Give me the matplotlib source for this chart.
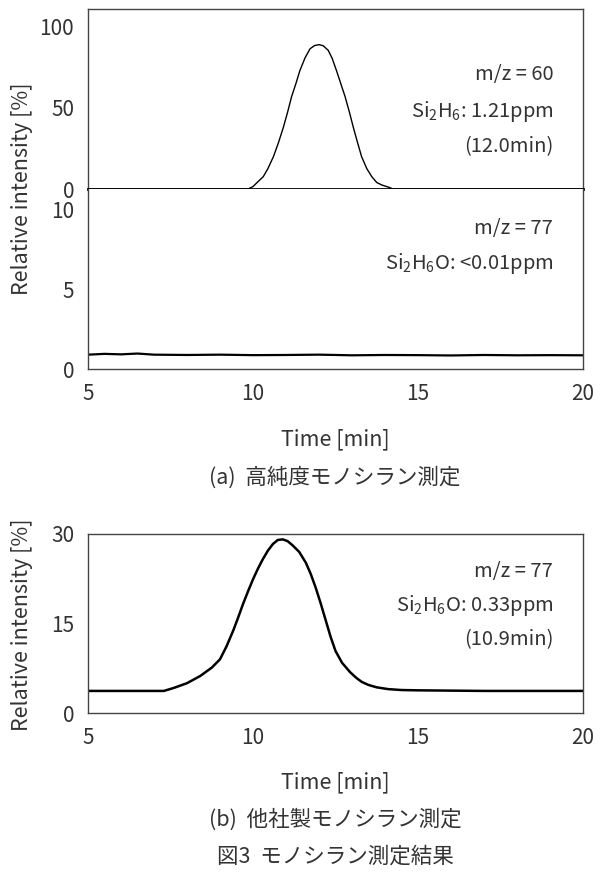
import matplotlib
matplotlib.use("Agg")
import matplotlib.pyplot as plt

plt.rcParams['font.family'] = ['Noto Sans CJK JP', 'DejaVu Sans']
plt.rcParams['mathtext.default'] = 'regular'

TEXT = "#333333"

# (a) m/z = 60 : Si2H6 peak
t_si2h6 = [5.0, 9.0, 9.85, 10.0, 10.1, 10.31, 10.45, 10.62, 10.77, 10.92, 11.05,
           11.17, 11.3, 11.42, 11.58, 11.73, 11.87, 12.01, 12.13, 12.28, 12.4,
           12.53, 12.66, 12.79, 12.92, 13.04, 13.17, 13.29, 13.45, 13.6, 13.75,
           13.9, 14.05, 14.15, 14.24, 16.0, 20.0]
i_si2h6 = [0.0, 0.0, 0.0, 1.5, 3.5, 7.6, 12.5, 20.0, 28.5, 38.0, 47.5,
           57.0, 65.0, 73.0, 81.0, 86.5, 88.5, 89.0, 88.3, 85.5, 80.5,
           73.0, 65.0, 57.0, 47.5, 38.0, 28.5, 20.0, 12.5, 7.6, 4.0,
           2.5, 1.5, 0.8, 0.0, 0.0, 0.0]

# (a) m/z = 77 : Si2H6O (below detection)
t_a77 = [5.0, 5.5, 6.0, 6.5, 7.0, 8.0, 9.0, 10.0, 11.0, 12.0, 13.0, 14.0,
         15.0, 16.0, 17.0, 18.0, 19.0, 20.0]
i_a77 = [0.90, 0.95, 0.92, 0.97, 0.90, 0.88, 0.90, 0.87, 0.88, 0.90, 0.86, 0.88,
         0.87, 0.85, 0.88, 0.86, 0.87, 0.86]

# (b) m/z = 77 : Si2H6O from other supplier
t_b77 = [5.0, 6.0, 7.0, 7.3, 7.6, 8.0, 8.4, 8.75, 9.0, 9.2, 9.4, 9.55, 9.7,
         9.85, 10.0, 10.15, 10.3, 10.45, 10.6, 10.75, 10.9, 11.05, 11.2, 11.4,
         11.6, 11.75, 11.9, 12.05, 12.2, 12.35, 12.5, 12.7, 12.95, 13.15, 13.3,
         13.5, 13.75, 14.1, 14.5, 15.0, 17.0, 20.0]
i_b77 = [3.7, 3.7, 3.7, 3.7, 4.2, 5.0, 6.2, 7.6, 9.0, 11.2, 13.8, 16.0, 18.3,
         20.4, 22.4, 24.2, 25.8, 27.2, 28.3, 29.0, 29.1, 28.8, 28.1, 27.0,
         25.2, 23.3, 21.0, 18.4, 15.6, 12.8, 10.4, 8.4, 6.8, 5.8, 5.2,
         4.7, 4.3, 4.0, 3.85, 3.8, 3.7, 3.7]

x_ticks = [5, 10, 15, 20]
fs = 15.5
fs_tick = 15

fig = plt.figure(figsize=(6.03, 8.76), dpi=100)
L, W = 88 / 603, 495 / 603
ax1 = fig.add_axes([L, 1 - 189 / 876, W, 180 / 876])
ax2 = fig.add_axes([L, 1 - 369 / 876, W, 180 / 876])
ax3 = fig.add_axes([L, 1 - 713 / 876, W, 179 / 876])

for ax in (ax1, ax2, ax3):
    ax.set_xlim(5, 20)
    ax.set_xticks(x_ticks)
    ax.tick_params(length=0, labelsize=fs_tick, colors=TEXT, pad=10)
    for s in ax.spines.values():
        s.set_color("#444444")
        s.set_linewidth(1.0)

ax1.plot(t_si2h6, i_si2h6, color="black", lw=1.0)
ax1.set_ylim(0, 111)
ax1.set_yticks([0, 50, 100])
ax1.tick_params(labelbottom=False)
ax1.spines['bottom'].set_color("black")
ax1.spines['bottom'].set_linewidth(2.0)

ax2.plot(t_a77, i_a77, color="black", lw=1.6)
ax2.set_ylim(0, 11.3)
ax2.set_yticks([0, 5, 10])
ax2.spines['top'].set_visible(False)
ax2.set_xlabel("Time [min]", fontsize=fs, color=TEXT, labelpad=17)

ax3.plot(t_b77, i_b77, color="black", lw=1.8)
ax3.set_ylim(0, 30)
ax3.set_yticks([0, 15, 30])
ax3.set_xlabel("Time [min]", fontsize=fs, color=TEXT, labelpad=16)

fig.text(22 / 603, 1 - 189 / 876, "Relative intensity [%]", rotation=90,
         ha="center", va="center", fontsize=fs, color=TEXT)
fig.text(22 / 603, 1 - 625 / 876, "Relative intensity [%]", rotation=90,
         ha="center", va="center", fontsize=fs, color=TEXT)

def notes(ax, lines, y0, dy):
    for k, s in enumerate(lines):
        ax.text(0.94, y0 - k * dy, s, transform=ax.transAxes, ha="right",
                va="center", fontsize=14.5, color=TEXT)

notes(ax1, ["m/z = 60", r"$\mathregular{Si_2H_6}$: 1.21ppm", "(12.0min)"],
      1 - 66 / 180, 36 / 180)
notes(ax2, ["m/z = 77", r"$\mathregular{Si_2H_6O}$: <0.01ppm"],
      1 - 39 / 180, 35 / 180)
notes(ax3, ["m/z = 77", r"$\mathregular{Si_2H_6O}$: 0.33ppm", "(10.9min)"],
      1 - 38 / 179, 34 / 179)

fig.text(335 / 603, 1 - 478 / 876, "(a)  高純度モノシラン測定", ha="center",
         va="center", fontsize=fs, color=TEXT)
fig.text(335 / 603, 1 - 820 / 876, "(b)  他社製モノシラン測定", ha="center",
         va="center", fontsize=fs, color=TEXT)
fig.text(335 / 603, 1 - 857 / 876, "図3  モノシラン測定結果", ha="center",
         va="center", fontsize=fs, color=TEXT)

fig.savefig("out.png", dpi=100)
